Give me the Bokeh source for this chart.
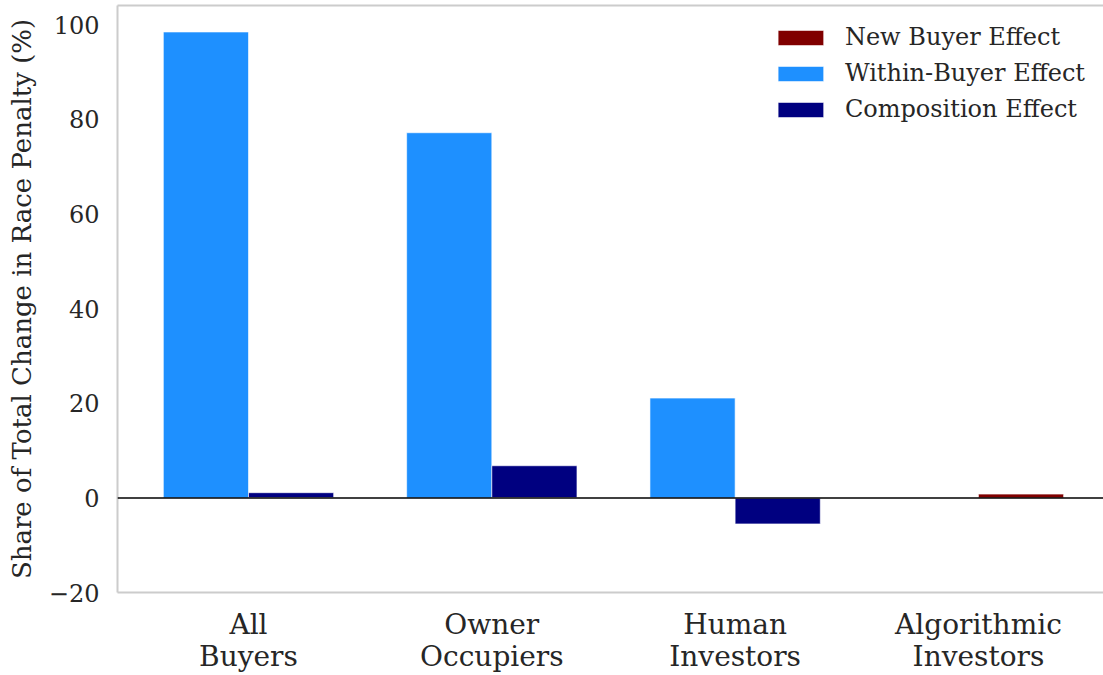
from bokeh.plotting import figure
from bokeh.models import Range1d, FixedTicker, Span, Legend, LegendItem, ColumnDataSource, LinearAxis
from bokeh.embed import file_html
from bokeh.resources import INLINE

categories = ["All\nBuyers", "Owner\nOccupiers", "Human\nInvestors", "Algorithmic\nInvestors"]
new_buyer = [0.0, 0.0, 0.0, 0.8]
within_buyer = [98.5, 77.2, 21.1, 0.0]
composition = [1.1, 6.8, -5.5, 0.0]
y_ticks = [-20, 0, 20, 40, 60, 80, 100]

FONT = "DejaVu Serif"
TXT = "#262626"
BW = 0.35
xs = list(range(len(categories)))

p = figure(width=1103, height=675, output_backend="svg", toolbar_location=None,
           x_range=Range1d(-0.5384, 3.514), y_range=Range1d(-20, 104.1),
           min_border_left=117, min_border_right=0, min_border_top=5, min_border_bottom=80)
p.outline_line_color = None
p.xgrid.grid_line_color = None
p.ygrid.grid_line_color = None
p.background_fill_color = "white"

src = ColumnDataSource(dict(
    x=xs,
    xw=[x - BW / 2 for x in xs],
    xc=[x + BW / 2 for x in xs],
    nb=new_buyer, wb=within_buyer, cp=composition))

r_wb = p.vbar(x="xw", top="wb", bottom=0, width=BW, source=src, fill_color="#1E90FF",
              line_color="white", line_alpha=0.6, line_width=1)
r_cp = p.vbar(x="xc", top="cp", bottom=0, width=BW, source=src, fill_color="#000080",
              line_color="white", line_alpha=0.6, line_width=1)
r_nb = p.vbar(x="xc", top="nb", bottom=0, width=BW, source=src, fill_color="#800000",
              line_color="white", line_alpha=0.6, line_width=1)

p.add_layout(Span(location=0, dimension="width", line_color="black", line_width=1.5))

# axes
p.xaxis.ticker = FixedTicker(ticks=xs)
p.xaxis.major_label_overrides = {i: c for i, c in enumerate(categories)}
p.yaxis.ticker = FixedTicker(ticks=y_ticks)
p.yaxis.major_label_overrides = {t: (("\u2212" + str(-t)) if t < 0 else str(t)) for t in y_ticks}
for ax in (p.xaxis[0], p.yaxis[0]):
    ax.axis_line_color = "#cccccc"
    ax.axis_line_width = 2
    ax.major_tick_line_color = None
    ax.minor_tick_line_color = None
    ax.major_tick_out = 0
    ax.major_tick_in = 0
    ax.minor_tick_out = 0
    ax.minor_tick_in = 0
    ax.major_label_text_font = FONT
    ax.major_label_text_color = TXT
    ax.axis_label_text_font = FONT
    ax.axis_label_text_color = TXT
    ax.axis_label_text_font_style = "normal"
p.xaxis.major_label_text_font_size = "28px"
p.xaxis.major_label_text_line_height = 0.98
p.xaxis.major_label_standoff = 15
p.yaxis.major_label_text_font_size = "24px"
p.yaxis.major_label_standoff = 18
p.yaxis.axis_label = "Share of Total Change in Race Penalty (%)"
p.yaxis.axis_label_text_font_size = "26px"
p.yaxis.axis_label_standoff = 9

top = LinearAxis(axis_line_color="#cccccc", axis_line_width=2, major_tick_line_color=None,
                 minor_tick_line_color=None, major_tick_out=0, major_tick_in=0,
                 minor_tick_out=0, minor_tick_in=0, major_label_standoff=0,
                 major_label_text_font_size="0px", ticker=FixedTicker(ticks=[]))
p.add_layout(top, "above")

legend = Legend(items=[LegendItem(label="New Buyer Effect", renderers=[r_nb]),
                       LegendItem(label="Within-Buyer Effect", renderers=[r_wb]),
                       LegendItem(label="Composition Effect", renderers=[r_cp])],
                location="top_right", border_line_color=None, background_fill_alpha=0,
                label_text_font=FONT, label_text_font_size="24px", label_text_color=TXT,
                glyph_width=57, glyph_height=19, label_standoff=16, spacing=8,
                margin=18, padding=8)
p.add_layout(legend)

open("out.html", "w").write(file_html(p, INLINE))
